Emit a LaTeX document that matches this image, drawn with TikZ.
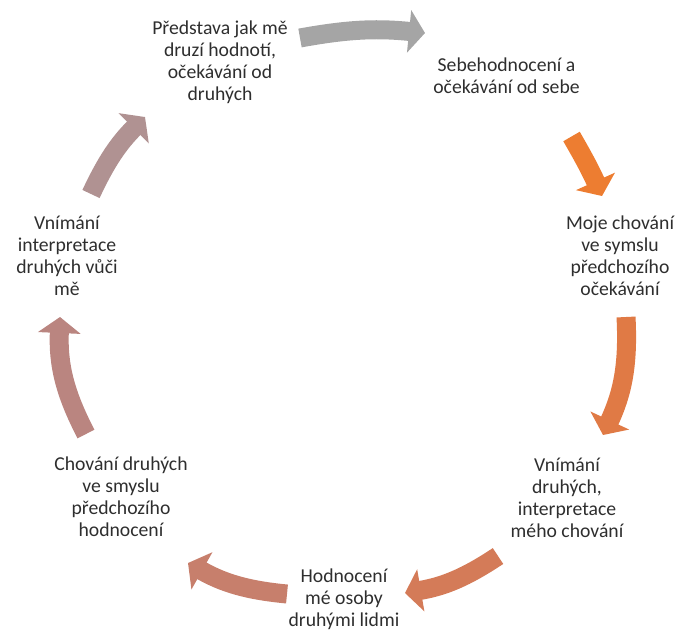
\documentclass[tikz,border=0pt]{standalone}
\usepackage{fontspec}
\setmainfont{Carlito}
\usepackage{tikz}
\usetikzlibrary{arrows.meta}
\usepackage{xcolor}
\definecolor{txt}{HTML}{2E2E2E}
\definecolor{cA}{HTML}{A5A5A5}
\definecolor{cB}{HTML}{ED7D31}
\definecolor{cC}{HTML}{E07A45}
\definecolor{cD}{HTML}{D47B58}
\definecolor{cE}{HTML}{C77F6C}
\definecolor{cF}{HTML}{BA8580}
\definecolor{cG}{HTML}{B09292}

\begin{document}
\begin{tikzpicture}[
  lbl/.style={align=center, text=txt, font=\fontsize{11.2}{12.5}\selectfont, inner sep=0pt},
  cyc/.style={line width=0.38cm, -{Triangle[length=0.32cm, width=0.84cm]}, bend left=#1},
  cyc/.default=10]
\useasboundingbox (0,0) rectangle (13.52,12.66);
\node[lbl] (predstava) at (4.40,11.42) {Představa jak mě\\druzí hodnotí,\\očekávání od\\druhých};
\node[lbl] (sebe) at (10.13,11.14) {Sebehodnocení a\\očekávání od sebe};
\node[lbl] (moje) at (12.40,7.54) {Moje chování\\ve symslu\\předchozího\\očekávání};
\node[lbl] (vnimani) at (11.34,2.70) {Vnímání\\druhých,\\interpretace\\mého chování};
\node[lbl] (hodnoceni) at (6.88,0.68) {Hodnocení\\mé osoby\\druhými lidmi};
\node[lbl] (druzi) at (2.42,2.72) {Chování druhých\\ve smyslu\\předchozího\\hodnocení};
\node[lbl] (interp) at (1.34,7.54) {Vnímání\\interpretace\\druhých vůči\\mě};
% arrow ends
\coordinate (a1) at (6.00,11.90); \coordinate (b1) at (8.50,12.00);
\coordinate (a2) at (11.43,9.93); \coordinate (b2) at (12.04,8.74);
\coordinate (a3) at (12.52,6.32); \coordinate (b3) at (12.06,3.96);
\coordinate (a4) at (9.96,1.54);  \coordinate (b4) at (8.10,0.80);
\coordinate (a5) at (5.74,0.78);  \coordinate (b5) at (3.76,1.40);
\coordinate (a6) at (1.72,3.98);  \coordinate (b6) at (1.20,6.32);
\coordinate (a7) at (1.82,8.78);  \coordinate (b7) at (2.90,10.32);
\draw[cyc=8, cA] (a1) to (b1);
\draw[cyc=3, cB] (a2) to (b2);
\draw[cyc=14, cC] (a3) to (b3);
\draw[cyc=12, cD] (a4) to (b4);
\draw[cyc=12, cE] (a5) to (b5);
\draw[cyc=15, cF] (a6) to (b6);
\draw[cyc=10, cG] (a7) to (b7);
\end{tikzpicture}
\end{document}
